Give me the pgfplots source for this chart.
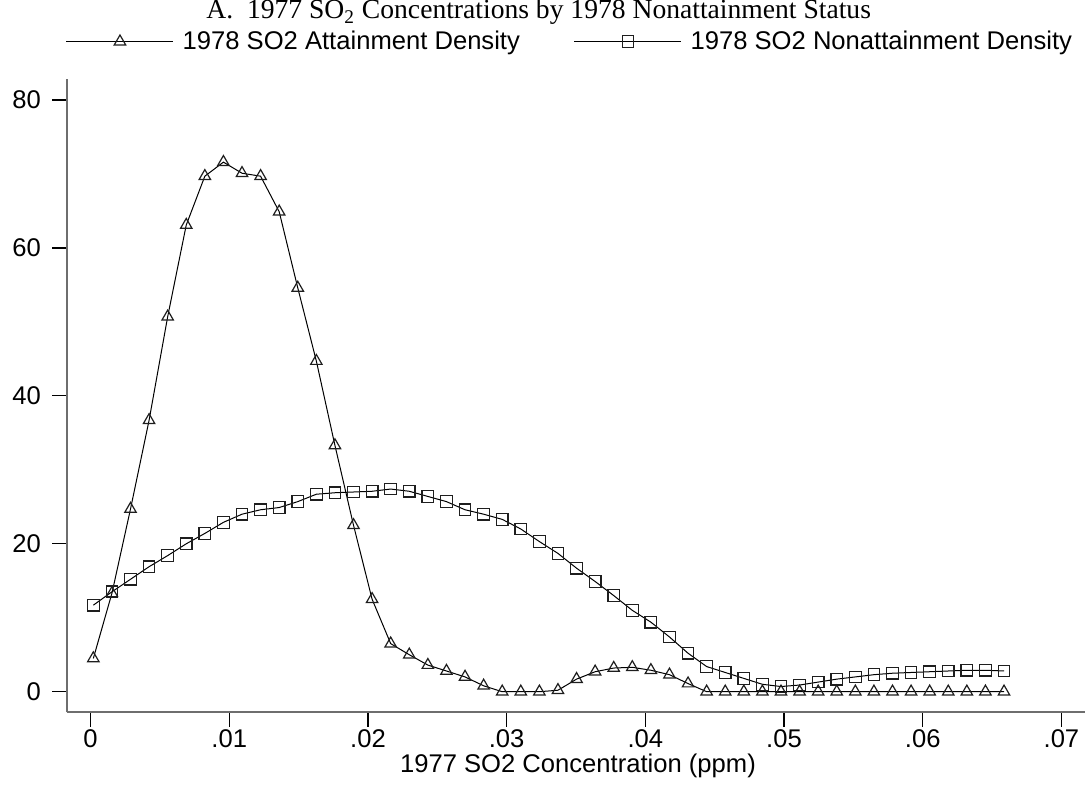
\documentclass[border=0pt]{standalone}
\usepackage{fontspec}
\setmainfont{Liberation Sans}
\newfontfamily\seriffont{Liberation Serif}
\usepackage{pgfplots}
\pgfplotsset{compat=1.18}
\usepackage{pgfplotstable}

\pgfplotstableread{
x        att   non
0.00020  4.5   11.7
0.00154  13.3  13.5
0.00288  24.7  15.2
0.00422  36.7  16.9
0.00556  50.7  18.4
0.00690  63.1  20.0
0.00824  69.7  21.4
0.00958  71.6  22.9
0.01092  70.1  24.0
0.01226  69.7  24.6
0.01360  64.9  24.9
0.01494  54.6  25.7
0.01628  44.7  26.7
0.01762  33.3  26.9
0.01896  22.5  27.0
0.02030  12.5  27.1
0.02164  6.5   27.4
0.02298  5.0   27.1
0.02432  3.6   26.4
0.02566  2.8   25.7
0.02700  2.0   24.6
0.02834  0.8   24.0
0.02968  0.0   23.3
0.03102  0.0   22.0
0.03236  0.0   20.3
0.03370  0.2   18.7
0.03504  1.7   16.7
0.03638  2.7   14.9
0.03772  3.2   13.0
0.03906  3.3   11.0
0.04040  2.9   9.4
0.04174  2.3   7.4
0.04308  1.1   5.2
0.04442  0.0   3.4
0.04576  0.0   2.6
0.04710  0.0   1.8
0.04844  0.0   1.0
0.04978  0.0   0.7
0.05112  0.0   0.9
0.05246  0.0   1.3
0.05380  0.0   1.7
0.05514  0.0   2.0
0.05648  0.0   2.3
0.05782  0.0   2.5
0.05916  0.0   2.6
0.06050  0.0   2.7
0.06184  0.0   2.8
0.06318  0.0   2.9
0.06452  0.0   2.9
0.06586  0.0   2.8
}\datatable

\definecolor{axisgray}{RGB}{110,110,110}
\definecolor{markgray}{RGB}{30,30,30}

\begin{document}
\begin{tikzpicture}
\useasboundingbox (-33.35pt,-36.25pt) rectangle (510.15pt,356.25pt);
\begin{axis}[
  scale only axis,
  width=509.15pt, height=316.75pt,
  at={(0pt,0pt)}, anchor=south west,
  xmin=-0.00172, xmax=0.0717,
  ymin=-2.81, ymax=82.84,
  axis x line*=bottom, axis y line*=left,
  axis line style={axisgray, line width=1pt},
  xtick={0,0.01,0.02,0.03,0.04,0.05,0.06,0.07},
  xticklabels={0,.01,.02,.03,.04,.05,.06,.07},
  scaled x ticks=false,
  ytick={0,20,40,60,80},
  tick align=outside,
  major tick length=7.2pt,
  every tick/.style={black, line width=0.6pt},
  /pgf/number format/assume math mode=true,
  ticklabel style={font=\fontsize{12.8}{15}\selectfont},
  xticklabel style={yshift=2.2pt},
  yticklabel style={xshift=-2.2pt},
  xlabel={1977 SO2 Concentration (ppm)},
  xlabel style={font=\fontsize{12.8}{15}\selectfont, at={(axis description cs:0.5021,0)}, anchor=base, yshift=-30.25pt},
  legend columns=2,
  legend cell align=left,
  legend style={draw=none, fill=none, inner sep=0pt, outer sep=0pt,
    at={(axis description cs:-0.0007,1.059)}, anchor=west,
    font=\fontsize{12.8}{15}\selectfont,
    nodes={inner sep=0pt, outer sep=0pt},
    /tikz/every odd column/.append style={column sep=4.35pt},
    /tikz/every even column/.append style={column sep=27pt}},
  legend image code/.code={%
    \draw[black, line width=0.5pt] (0pt,0pt) -- (53.5pt,0pt);
    \draw[mark repeat=2, mark phase=2] plot coordinates {(0pt,0pt) (26.75pt,0pt) (53.5pt,0pt)};},
]
\addplot[black, line width=0.5pt, mark=triangle, mark size=3.3pt,
  mark options={draw=markgray, fill=none, line width=0.6pt}] table[x=x, y=att] {\datatable};
\addlegendentry{1978 SO2 Attainment Density}
\addplot[black, line width=0.5pt, mark=square, mark size=2.9pt,
  mark options={draw=markgray, fill=none, line width=0.6pt}] table[x=x, y=non] {\datatable};
\addlegendentry{1978 SO2 Nonattainment Density}
\end{axis}
\node[anchor=base, inner sep=0pt, font=\fontsize{13.8}{16}\seriffont]
  at (236pt,346.8pt) {A.\ \ 1977 SO\textsubscript{2} Concentrations by 1978 Nonattainment Status};
\end{tikzpicture}
\end{document}
